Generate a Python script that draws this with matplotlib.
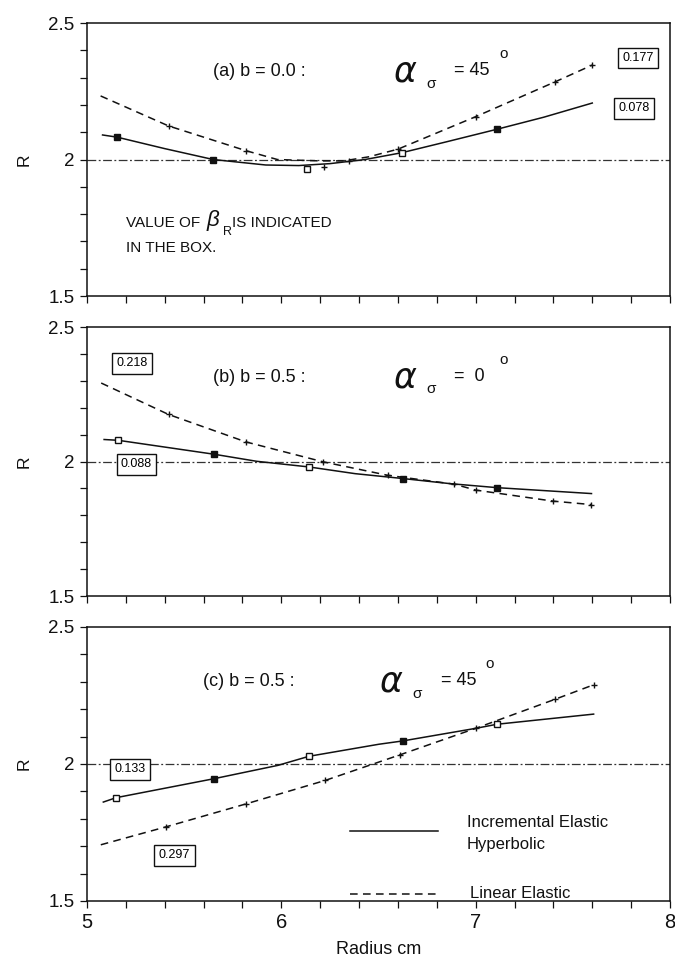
import numpy as np
import matplotlib
matplotlib.use("Agg")
import matplotlib.pyplot as plt

plt.rcParams['font.family'] = ['Liberation Sans', 'DejaVu Sans']

# ---------------- data ----------------
# Panel (a) b = 0.0, alpha = 45
a_inc_x = [5.08, 5.155, 5.40, 5.65, 5.92, 6.09, 6.25, 6.43, 6.62, 6.85, 7.11, 7.35, 7.60]
a_inc_y = [2.090, 2.082, 2.040, 2.000, 1.980, 1.978, 1.985, 2.000, 2.025, 2.065, 2.111, 2.155, 2.207]
a_lin_x = [5.07, 5.42, 5.82, 5.98, 6.20, 6.32, 6.45, 6.60, 7.00, 7.41, 7.60]
a_lin_y = [2.233, 2.123, 2.032, 2.000, 1.995, 1.995, 2.010, 2.038, 2.157, 2.285, 2.346]
a_inc_mx = [5.155, 5.65, 6.133, 6.62, 7.11]
a_inc_my = [2.082, 2.000, 1.965, 2.023, 2.111]
a_inc_open = [False, False, True, True, False]
a_lin_mx = [5.42, 5.82, 6.22, 6.35, 6.60, 7.00, 7.41, 7.60]
a_lin_my = [2.123, 2.032, 1.974, 1.995, 2.040, 2.157, 2.285, 2.346]
a_box_inc = "0.078"
a_box_lin = "0.177"

# Panel (b) b = 0.5, alpha = 0
b_inc_x = [5.088, 5.161, 5.656, 5.873, 6.142, 6.38, 6.624, 6.867, 7.11, 7.596]
b_inc_y = [2.082, 2.079, 2.027, 2.001, 1.980, 1.955, 1.937, 1.918, 1.903, 1.881]
b_lin_x = [5.073, 5.42, 5.818, 6.215, 6.547, 6.889, 7.00, 7.397, 7.596]
b_lin_y = [2.292, 2.175, 2.073, 1.999, 1.949, 1.916, 1.894, 1.853, 1.840]
b_inc_mx = [5.161, 5.656, 6.142, 6.624, 7.11]
b_inc_my = [2.079, 2.027, 1.980, 1.937, 1.903]
b_inc_open = [True, False, True, False, False]
b_lin_mx = [5.42, 5.818, 6.215, 6.547, 6.889, 7.00, 7.397, 7.596]
b_lin_my = [2.175, 2.073, 1.999, 1.949, 1.916, 1.894, 1.853, 1.840]
b_box_inc = "0.088"
b_box_lin = "0.218"

# Panel (c) b = 0.5, alpha = 45
c_inc_x = [5.084, 5.150, 5.652, 5.983, 6.142, 6.502, 6.624, 7.000, 7.110, 7.607]
c_inc_y = [1.861, 1.877, 1.946, 1.995, 2.028, 2.072, 2.084, 2.130, 2.145, 2.182]
c_lin_x = [5.071, 5.409, 5.817, 6.226, 6.613, 7.000, 7.408, 7.607]
c_lin_y = [1.705, 1.771, 1.854, 1.940, 2.034, 2.130, 2.236, 2.289]
c_inc_mx = [5.150, 5.652, 6.142, 6.624, 7.110]
c_inc_my = [1.877, 1.946, 2.028, 2.084, 2.145]
c_inc_open = [True, False, True, False, True]
c_lin_mx = [5.409, 5.817, 6.226, 6.613, 7.000, 7.408, 7.607]
c_lin_my = [1.771, 1.854, 1.940, 2.034, 2.130, 2.236, 2.289]
c_box_inc = "0.133"
c_box_lin = "0.297"

titles = ["(a) b = 0.0 :", "(b) b = 0.5 :", "(c) b = 0.5 :"]
alpha_vals = ["= 45", "=  0", "= 45"]

x_ticks = np.round(np.arange(5.0, 8.001, 0.2), 1)
x_ticklabels = ['5' if abs(t - 5) < 1e-6 else '6' if abs(t - 6) < 1e-6 else
                '7' if abs(t - 7) < 1e-6 else '8' if abs(t - 8) < 1e-6 else '' for t in x_ticks]
y_ticks = np.round(np.arange(1.5, 2.501, 0.1), 1)
y_ticklabels = ['1.5' if abs(t - 1.5) < 1e-6 else '2' if abs(t - 2) < 1e-6 else
                '2.5' if abs(t - 2.5) < 1e-6 else '' for t in y_ticks]

# ---------------- figure ----------------
fig = plt.figure(figsize=(6.75, 9.64), dpi=100)
L, W = 0.1289, 0.8637
ax_a = fig.add_axes([L, 0.6929, W, 0.2832])
ax_b = fig.add_axes([L, 0.3817, W, 0.2790])
ax_c = fig.add_axes([L, 0.0654, W, 0.2842])

panels = [
    (ax_a, a_inc_x, a_inc_y, a_lin_x, a_lin_y, a_inc_mx, a_inc_my, a_inc_open, a_lin_mx, a_lin_my),
    (ax_b, b_inc_x, b_inc_y, b_lin_x, b_lin_y, b_inc_mx, b_inc_my, b_inc_open, b_lin_mx, b_lin_my),
    (ax_c, c_inc_x, c_inc_y, c_lin_x, c_lin_y, c_inc_mx, c_inc_my, c_inc_open, c_lin_mx, c_lin_my),
]

for i, (ax, ix, iy, lx, ly, imx, imy, iop, lmx, lmy) in enumerate(panels):
    ax.set_xlim(5, 8)
    ax.set_ylim(1.5, 2.5)
    ax.axhline(2.0, color='#333333', lw=0.9, ls=(0, (7, 2, 1.5, 2)))
    ax.plot(ix, iy, color='#111111', lw=1.1, ls='-')
    ax.plot(lx, ly, color='#111111', lw=1.1, ls=(0, (5, 3.5)))
    for mx, my, op in zip(imx, imy, iop):
        ax.plot([mx], [my], marker='s', ms=4.2, color='#111111',
                mfc='white' if op else '#111111', mew=1.0)
    ax.plot(lmx, lmy, ls='none', marker='+', ms=4.5, mew=1.0, color='#111111')
    ax.set_xticks(x_ticks)
    ax.set_yticks(y_ticks)
    ax.set_yticklabels(y_ticklabels)
    if i == 2:
        ax.set_xticklabels(x_ticklabels)
    else:
        ax.set_xticklabels([''] * len(x_ticks))
    ax.tick_params(direction='out', length=5, width=0.9, labelsize=13.5, pad=4,
                   colors='#111111')
    ax.tick_params(axis='x', labelsize=14.5)
    for s in ax.spines.values():
        s.set_linewidth(1.1)
        s.set_color('#111111')
    ax.set_ylabel('R', fontsize=12.5, labelpad=12, color='#111111')

    # panel title
    ty = [2.323, 2.314, 2.30][i]
    tx = [5.65, 5.65, 5.595][i]
    ax.text(tx, ty, titles[i], fontsize=13, va='center', ha='left', color='#111111')
    ax_x = [6.58, 6.58, 6.51][i]
    ax.text(ax_x, ty, '\u03b1', fontsize=25, va='center', ha='left', color='#111111',
            fontstyle='italic', family=['DejaVu Sans'])
    ax.text(ax_x + 0.165, ty - 0.045, '\u03c3', fontsize=11, va='center', ha='left',
            color='#111111')
    ax.text(ax_x + 0.31, ty + 0.003, alpha_vals[i], fontsize=13, va='center', ha='left',
            color='#111111')
    ax.text(ax_x + 0.54, ty + 0.065, 'o', fontsize=11, va='center', ha='left',
            color='#111111')

box = dict(boxstyle='square,pad=0.35', fc='white', ec='#111111', lw=1.0)

# boxes panel a
ax_a.text(7.835, 2.372, a_box_lin, fontsize=9, ha='center', va='center', bbox=box)
ax_a.text(7.815, 2.188, a_box_inc, fontsize=9, ha='center', va='center', bbox=box)
# boxes panel b
ax_b.text(5.23, 2.365, b_box_lin, fontsize=9, ha='center', va='center', bbox=box)
ax_b.text(5.255, 1.99, b_box_inc, fontsize=9, ha='center', va='center', bbox=box)
# boxes panel c
ax_c.text(5.22, 1.98, c_box_inc, fontsize=9, ha='center', va='center', bbox=box)
ax_c.text(5.45, 1.667, c_box_lin, fontsize=9, ha='center', va='center', bbox=box)

# note in panel a
ax_a.text(5.2, 1.766, 'VALUE OF', fontsize=11, ha='left', va='center', color='#111111')
ax_a.text(5.615, 1.775, '\u03b2', fontsize=16, ha='left', va='center', color='#111111',
          fontstyle='italic')
ax_a.text(5.70, 1.735, 'R', fontsize=9, ha='left', va='center', color='#111111')
ax_a.text(5.745, 1.766, 'IS INDICATED', fontsize=11, ha='left', va='center', color='#111111')
ax_a.text(5.2, 1.675, 'IN THE BOX.', fontsize=11, ha='left', va='center', color='#111111')

# legend in panel c
ax_c.plot([6.354, 6.805], [1.755, 1.755], color='#111111', lw=1.1, ls='-')
ax_c.plot([6.354, 6.805], [1.527, 1.527], color='#111111', lw=1.1, ls=(0, (5, 3.5)))
ax_c.text(6.955, 1.788, 'Incremental Elastic', fontsize=12, ha='left', va='center',
          color='#111111')
ax_c.text(6.955, 1.706, 'Hyperbolic', fontsize=12, ha='left', va='center', color='#111111')
ax_c.text(6.97, 1.527, 'Linear Elastic', fontsize=12, ha='left', va='center',
          color='#111111')

ax_c.set_xlabel('Radius cm', fontsize=13, labelpad=6, color='#111111')

fig.savefig('out.png', dpi=100)
